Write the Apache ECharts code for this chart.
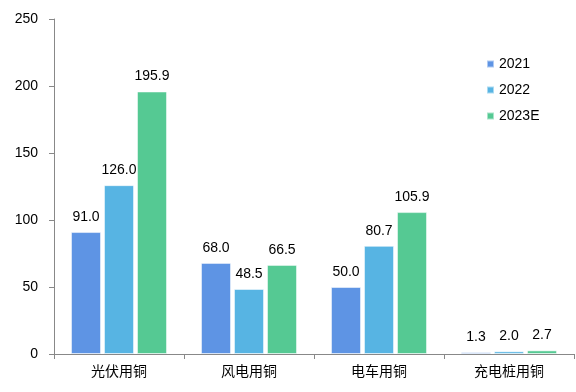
<!DOCTYPE html>
<html><head><meta charset="utf-8">
<script src="https://cdn.jsdelivr.net/npm/echarts@6/dist/echarts.min.js"></script>
<style>html,body{margin:0;padding:0;background:#fff}#c{width:576px;height:392px}</style>
</head><body><div id="c"></div>
<script>
const categories = ['光伏用铜', '风电用铜', '电车用铜', '充电桩用铜'];
const s2021 = [91.0, 68.0, 50.0, 1.3];
const s2022 = [126.0, 48.5, 80.7, 2.0];
const s2023E = [195.9, 66.5, 105.9, 2.7];
const seriesNames = ['2021', '2022', '2023E'];
const colors = ['#5e94e4', '#57b4e3', '#55c993'];
const yTicks = { min: 0, max: 250, interval: 50 };

const font = 'Arial, "Liberation Sans", "Noto Sans CJK SC", sans-serif';
const chart = echarts.init(document.getElementById('c'));
const mk = (name, data, color) => ({
  name, type: 'bar', data, barWidth: 30, barGap: '10%',
  itemStyle: { color, borderColor: 'rgba(255,255,255,0.5)', borderWidth: 1 },
  label: { show: true, position: 'top', distance: 8, color: '#000', fontSize: 14, fontFamily: font,
    formatter: p => p.value.toFixed(1) }
});
chart.setOption({
  animation: false,
  textStyle: { fontFamily: font },
  grid: { left: 54, right: 2, top: 19, bottom: 38 },
  legend: {
    orient: 'vertical', left: 481, top: 52, itemWidth: 7, itemHeight: 7, itemGap: 12,
    icon: 'rect', textStyle: { fontSize: 14, color: '#000', fontFamily: font },
    data: seriesNames
  },
  xAxis: {
    type: 'category', data: categories,
    axisLine: { lineStyle: { color: '#888' } },
    axisTick: { show: true, length: 5, lineStyle: { color: '#888' } },
    axisLabel: { color: '#000', fontSize: 14, margin: 11, fontFamily: font }
  },
  yAxis: {
    type: 'value', min: yTicks.min, max: yTicks.max, interval: yTicks.interval,
    axisLine: { show: true, lineStyle: { color: '#888' } },
    axisTick: { show: true, length: 5, lineStyle: { color: '#888' } },
    splitLine: { show: false },
    axisLabel: { color: '#000', fontSize: 14, margin: 16, fontFamily: font }
  },
  series: [mk(seriesNames[0], s2021, colors[0]), mk(seriesNames[1], s2022, colors[1]), mk(seriesNames[2], s2023E, colors[2])]
});
</script></body></html>
